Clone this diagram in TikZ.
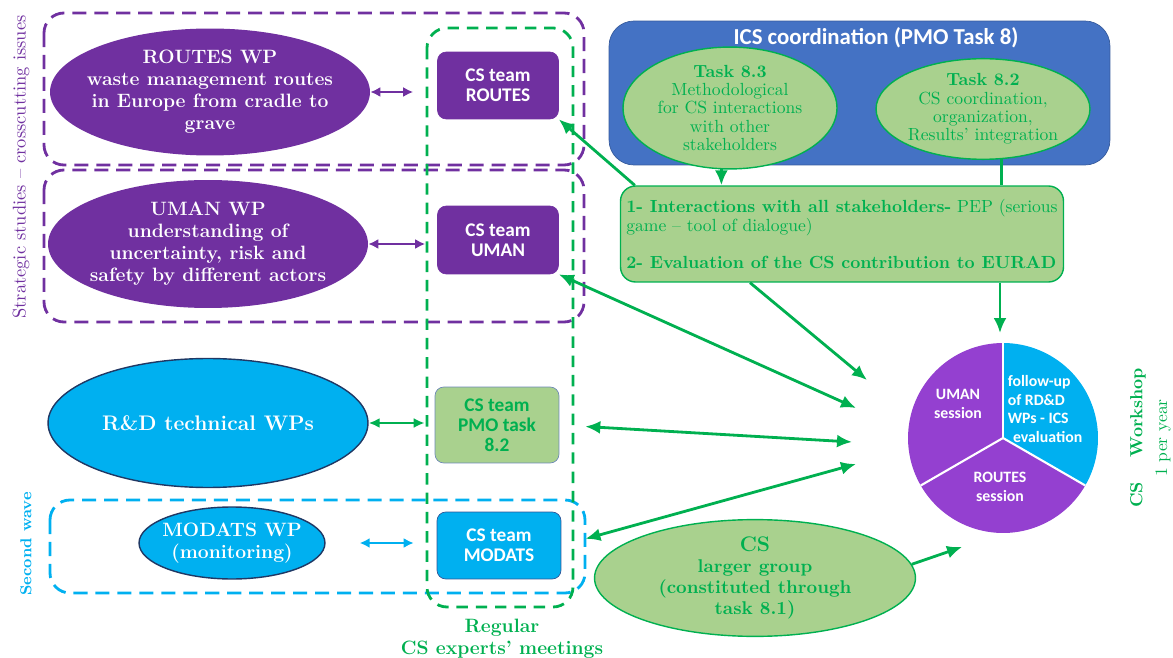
\documentclass[tikz,border=0pt]{standalone}
\usepackage{fontspec}
\newfontfamily\calibri{Carlito}
\usetikzlibrary{arrows.meta,shapes.geometric}

\definecolor{wppurple}{HTML}{7030A0}
\definecolor{piepurple}{HTML}{9440D0}
\definecolor{cyanwp}{HTML}{00B0F0}
\definecolor{icsblue}{HTML}{4472C4}
\definecolor{lgreen}{HTML}{A9D18E}
\definecolor{csgreen}{HTML}{00B050}
\definecolor{navy}{HTML}{203864}
\definecolor{boxblue}{HTML}{2F5597}

\tikzset{
  wp/.style={ellipse,inner ysep=0pt,inner xsep=-0.3cm,text=white,align=center,font=\bfseries\fontsize{11}{12.5}\selectfont},
  task/.style={ellipse,inner sep=0pt,fill=lgreen,draw=csgreen,line width=0.8pt,text=csgreen,align=center,font=\fontsize{10}{10.5}\selectfont},
  csteam/.style={rectangle,rounded corners=5pt,inner sep=0pt,minimum width=2.42cm,minimum height=1.34cm,align=center,font=\calibri\bfseries\fontsize{11}{11.5}\selectfont},
  pietxt/.style={text=white,align=center,inner sep=0pt,font=\calibri\bfseries\fontsize{9}{10.5}\selectfont},
  grp/.style={line width=1.6pt,rounded corners=0.4cm,dash pattern=on 8pt off 4.5pt},
  garrow/.style={csgreen,line width=1.6pt},
}

\begin{document}
\begin{tikzpicture}[x=0.02cm,y=-0.02cm,>={Latex[length=3mm,width=2.6mm]}]
  \useasboundingbox (0,0) rectangle (1173,658);
  % grupos
  \draw[grp,wppurple] (44,13) rectangle (584,165);
  \draw[grp,wppurple] (44,170) rectangle (584,322);
  \draw[grp,cyanwp] (50,500) rectangle (585,593);
  \draw[grp,csgreen,dash pattern=on 6.5pt off 4.5pt] (427,28) rectangle (573,607);
  \node[rotate=90,text=wppurple,font=\fontsize{10.5}{12}\selectfont] (strat) at (21,167) {Strategic studies -- crosscutting issues};
  \node[rotate=90,text=cyanwp,font=\bfseries\fontsize{9}{10}\selectfont] (wave) at (26,544) {Second wave};
  \node[text=csgreen,align=center,font=\bfseries\fontsize{11}{12.4}\selectfont] (reg) at (502,639) {Regular\\CS experts' meetings};
  % work packages
  \node[wp,fill=wppurple,minimum width=6.4cm,minimum height=2.54cm] (wpR) at (210,92) {ROUTES WP\\waste management routes\\in Europe from cradle to\\grave};
  \node[wp,fill=wppurple,minimum width=6.4cm,minimum height=2.56cm] (wpU) at (208,244) {UMAN WP\\understanding of\\uncertainty, risk and\\safety by different actors};
  \node[wp,fill=cyanwp,draw=navy,line width=0.8pt,minimum width=6.4cm,minimum height=2.58cm,font=\bfseries\fontsize{12}{14}\selectfont] (wpD) at (208,423) {R\&D technical WPs};
  \node[wp,fill=cyanwp,draw=navy,line width=0.8pt,minimum width=3.72cm,minimum height=1.44cm] (wpM) at (232,543) {MODATS WP\\(monitoring)};
  % cs teams
  \node[csteam,fill=wppurple,draw=wppurple,text=white] (csR) at (498,85.5) {CS team\\ROUTES};
  \node[csteam,fill=wppurple,draw=wppurple,text=white,minimum height=1.36cm] (csU) at (498,240) {CS team\\UMAN};
  \node[csteam,fill=lgreen,draw=boxblue!70,text=csgreen,minimum width=2.48cm,minimum height=1.52cm] (csP) at (497,425) {CS team\\PMO task\\8.2};
  \node[csteam,fill=cyanwp,draw=boxblue,text=white,minimum width=2.48cm] (csM) at (499,545.5) {CS team\\MODATS};
  % coordinacion
  \node[rectangle,rounded corners=0.5cm,fill=icsblue,draw=icsblue!80!black,minimum width=10.02cm,minimum height=2.88cm] (ics) at (859.5,93) {};
  \node[text=white,font=\calibri\bfseries\fontsize{13}{15}\selectfont] (icsT) at (876,38) {ICS coordination (PMO Task 8)};
  \node[task,minimum width=4.28cm,minimum height=2.04cm] (t83) at (730,108) {\textbf{Task 8.3}\\Methodological\\for CS interactions\\with other\\stakeholders};
  \node[task,minimum width=4.28cm,minimum height=1.84cm] (t82) at (983,109) {\textbf{Task 8.2}\\CS coordination,\\organization,\\Results' integration};
  \node[rectangle,rounded corners=0.3cm,fill=lgreen,draw=csgreen,line width=0.8pt,minimum width=8.8cm,minimum height=1.92cm,text=csgreen,align=left,font=\fontsize{10}{10.8}\selectfont] (gbox) at (842,234) {\textbf{1- Interactions with all stakeholders-} PEP (serious\\game -- tool of dialogue)\\[10.8pt]\textbf{2- Evaluation of the CS contribution to EURAD}};
  \node[task,font=\bfseries\fontsize{10.5}{12}\selectfont,minimum width=6.42cm,minimum height=2.32cm] (lg) at (755,578) {{\fontsize{12}{12}\selectfont CS}\\larger group\\(constituted through\\task 8.1)};
  % workshop
  \coordinate (pie) at (1003,438);
  \foreach \s/\e/\c in {90/210/piepurple,210/330/piepurple,-30/90/cyanwp}
    \fill[\c] (pie) -- ++(\s:1.9cm) arc[start angle=\s,end angle=\e,radius=1.9cm] -- cycle;
  \foreach \a in {90,210,330} \draw[white,line width=1.2pt] (pie) -- ++(\a:1.9cm);
  \node[pietxt] (sU) at (958,404) {UMAN\\session};
  \node[pietxt] (sR) at (1000,487) {ROUTES\\session};
  \node[pietxt,align=left] (sF) at (1045,409) {follow-up\\of RD\&D\\WPs - ICS\\\hspace{3pt}evaluation};
  \node[rotate=90,text=csgreen,font=\bfseries\fontsize{10}{12}\selectfont] (wsh) at (1138,438) {CS\hspace{14pt}Workshop};
  \node[rotate=90,text=csgreen,font=\fontsize{10}{12}\selectfont] (wshY) at (1163,438) {1 per year};
  % flechas
  \coordinate (pA) at (867,380);
  \coordinate (pB) at (856,408);
  \coordinate (pC) at (852,442);
  \coordinate (pD) at (856,464);
  \coordinate (pE) at (962,547);
  \coordinate (pT) at (1000,333);
  \draw[<->,wppurple,line width=1.1pt,>={Latex[length=2mm,width=2mm]},shorten >=0.48cm] (wpR.east) -- (wpR.east -| csR.west);
  \draw[<->,wppurple,line width=1.1pt,>={Latex[length=2mm,width=2mm]},shorten >=0.24cm] (wpU.east) -- (wpU.east -| csU.west);
  \draw[<->,garrow,line width=1.3pt,>={Latex[length=2.2mm,width=2mm]},shorten >=0.2cm] (wpD.east) -- (wpD.east -| csP.west);
  \draw[<->,cyanwp,line width=1.1pt,>={Latex[length=2mm,width=2mm]},shorten <=0.68cm,shorten >=0.46cm] (wpM.east) -- (wpM.east -| csM.west);
  \draw[garrow,->] ([xshift=0.3cm]gbox.north west) -- (csR.south east);
  \draw[garrow,<->] (csU.south east) -- (pB);
  \draw[garrow,->] ([xshift=-1.84cm]gbox.south) -- (pA);
  \draw[garrow,<->,shorten <=0.52cm] (csP.east) -- (pC);
  \draw[garrow,<->,shorten <=0.5cm] (csM.east) -- (pD);
  \draw[garrow,->] (lg.5) -- (pE);
  \draw[garrow,->] (t83.262) -- (t83.262 |- gbox.north);
  \draw[garrow] (t82.290) -- (t82.290 |- gbox.north);
  \draw[garrow,->] (pT |- gbox.south) -- (pT);
\end{tikzpicture}
\end{document}
